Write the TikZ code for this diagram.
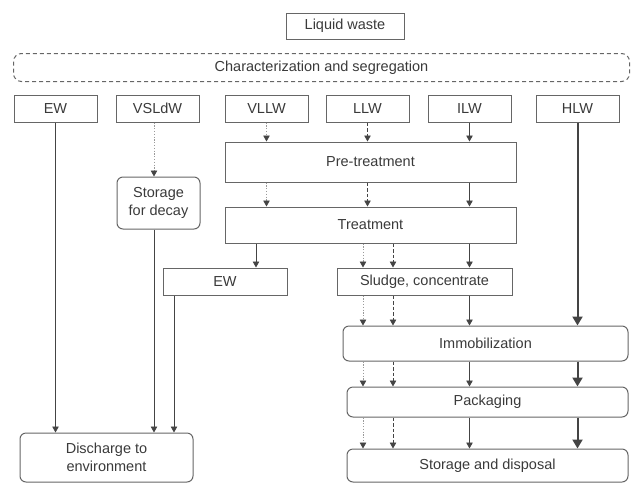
\documentclass[tikz,border=0pt]{standalone}
\usepackage{fontspec}
\setmainfont{Liberation Sans}
\usetikzlibrary{arrows.meta}
\definecolor{boxgray}{HTML}{666666}
\definecolor{linegray}{HTML}{444444}
\definecolor{dotgray}{HTML}{9A9A9A}
\definecolor{textgray}{HTML}{3A3A3A}

\tikzset{
  box/.style={draw=boxgray,line width=1pt,inner sep=0pt,text=textgray,align=center,
    font=\fontsize{14.5}{18}\selectfont},
  roundbox/.style={box,rounded corners=6pt},
  arr/.style={draw=linegray,line width=0.9pt,-{Triangle[width=6.5pt,length=6pt]}},
  arrdot/.style={draw=dotgray,line width=0.9pt,dash pattern=on 1.2pt off 1.6pt,
    -{Triangle[width=6.5pt,length=6pt,color=linegray]}},
  arrdash/.style={draw=linegray,line width=0.9pt,dash pattern=on 3.5pt off 2pt,
    -{Triangle[width=6.5pt,length=6pt]}},
  arrhlw/.style={draw=linegray,line width=2pt,-{Triangle[width=10pt,length=9pt]}}
}

\begin{document}
\begin{tikzpicture}[x=1pt,y=-1pt]
\useasboundingbox (0,0) rectangle (632,483);

\node[box,minimum width=118pt,minimum height=26pt] (lw) at (345,26) {Liquid waste};
\node[box,draw=none,minimum width=615pt,minimum height=27pt] (cs) at (321.5,67.5) {Characterization and segregation};
\draw[boxgray,line width=1pt,dash pattern=on 4pt off 3pt,rounded corners=8pt] (cs.north west) rectangle (cs.south east);

\node[box,minimum width=83pt,minimum height=27pt] (ew) at (55.5,108.5) {EW};
\node[box,minimum width=83pt,minimum height=27pt] (vsldw) at (157.5,108.5) {VSLdW};
\node[box,minimum width=83pt,minimum height=27pt] (vllw) at (266.5,108.5) {VLLW};
\node[box,minimum width=83pt,minimum height=27pt] (llw) at (367.5,108.5) {LLW};
\node[box,minimum width=83pt,minimum height=27pt] (ilw) at (469.5,108.5) {ILW};
\node[box,minimum width=83pt,minimum height=27pt] (hlw) at (577.5,108.5) {HLW};

\node[box,minimum width=291pt,minimum height=40pt] (pre) at (370.5,162) {Pre-treatment};
\node[box,minimum width=291pt,minimum height=36pt] (trt) at (370.5,225) {Treatment};
\node[roundbox,minimum width=83pt,minimum height=52pt] (sfd) at (158.5,203) {Storage\\for decay};
\node[box,minimum width=124pt,minimum height=27pt] (ew2) at (225,281.5) {EW};
\node[box,minimum width=175pt,minimum height=27pt] (sludge) at (424.5,281.5) {Sludge, concentrate};
\node[roundbox,minimum width=285pt,minimum height=35pt] (imm) at (485.5,343.5) {Immobilization};
\node[roundbox,minimum width=281pt,minimum height=30pt] (pkg) at (487.5,402) {Packaging};
\node[roundbox,minimum width=281pt,minimum height=33pt] (sd) at (487.5,465.5) {Storage and disposal};
\node[roundbox,minimum width=173pt,minimum height=49pt] (dis) at (106.5,457.5) {Discharge to\\environment};

\coordinate (colB) at (154,0);
\coordinate (colC) at (174,0);
\coordinate (colD) at (256,0);
\coordinate (colH) at (363,0);
\coordinate (colI) at (393,0);

\draw[arr] (ew.south) -- (dis.north -| ew.south);
\draw[arrdot] (vsldw.south -| colB) -- (sfd.north -| colB);
\draw[arr] (sfd.south -| colB) -- (dis.north -| colB);
\draw[arr] (ew2.south -| colC) -- (dis.north -| colC);

\draw[arrdot] (vllw.south) -- (pre.north -| vllw.south);
\draw[arrdash] (llw.south) -- (pre.north -| llw.south);
\draw[arr] (ilw.south) -- (pre.north -| ilw.south);
\draw[arrdot] (pre.south -| vllw.south) -- (trt.north -| vllw.south);
\draw[arrdash] (pre.south -| llw.south) -- (trt.north -| llw.south);
\draw[arr] (pre.south -| ilw.south) -- (trt.north -| ilw.south);

\draw[arr] (trt.south -| colD) -- (ew2.north -| colD);
\draw[arrdot] (trt.south -| colH) -- (sludge.north -| colH);
\draw[arrdash] (trt.south -| colI) -- (sludge.north -| colI);
\draw[arr] (trt.south -| ilw.south) -- (sludge.north -| ilw.south);

\draw[arrdot] (sludge.south -| colH) -- (imm.north -| colH);
\draw[arrdash] (sludge.south -| colI) -- (imm.north -| colI);
\draw[arr] (sludge.south -| ilw.south) -- (imm.north -| ilw.south);
\draw[arrhlw] (hlw.south) -- (imm.north -| hlw.south);

\draw[arrdot] (imm.south -| colH) -- (pkg.north -| colH);
\draw[arrdash] (imm.south -| colI) -- (pkg.north -| colI);
\draw[arr] (imm.south -| ilw.south) -- (pkg.north -| ilw.south);
\draw[arrhlw] (imm.south -| hlw.south) -- (pkg.north -| hlw.south);

\draw[arrdot] (pkg.south -| colH) -- (sd.north -| colH);
\draw[arrdash] (pkg.south -| colI) -- (sd.north -| colI);
\draw[arr] (pkg.south -| ilw.south) -- (sd.north -| ilw.south);
\draw[arrhlw] (pkg.south -| hlw.south) -- (sd.north -| hlw.south);
\end{tikzpicture}
\end{document}
